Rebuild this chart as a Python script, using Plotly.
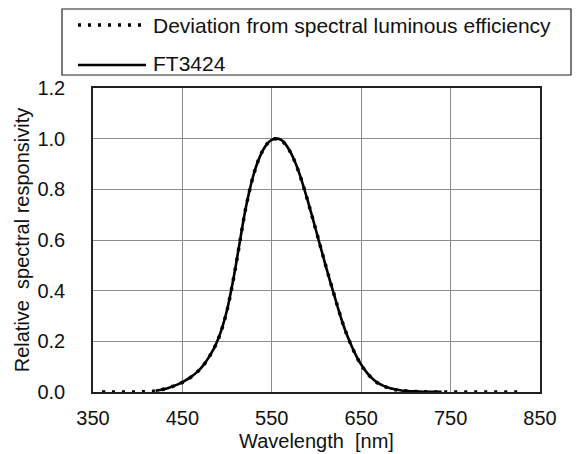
import plotly.graph_objects as go

# Wavelength grid (nm)
wl_ref = list(range(360, 835, 5))
# Spectral luminous efficiency V(lambda) (dotted)
v_ref = [0.0000, 0.0000, 0.0000, 0.0000, 0.0000, 0.0001, 0.0001, 0.0002, 0.0004, 0.0006,
         0.0012, 0.0022, 0.0040, 0.0073, 0.0116, 0.0168, 0.0230, 0.0298, 0.0380, 0.0480,
         0.0600, 0.0739, 0.0910, 0.1126, 0.1390, 0.1693, 0.2080, 0.2586, 0.3230, 0.4073,
         0.5030, 0.6082, 0.7100, 0.7932, 0.8620, 0.9149, 0.9540, 0.9803, 0.9950, 1.0000,
         0.9950, 0.9786, 0.9520, 0.9154, 0.8700, 0.8163, 0.7570, 0.6949, 0.6310, 0.5668,
         0.5030, 0.4412, 0.3810, 0.3210, 0.2650, 0.2170, 0.1750, 0.1382, 0.1070, 0.0816,
         0.0610, 0.0446, 0.0320, 0.0232, 0.0170, 0.0119, 0.0082, 0.0057, 0.0041, 0.0029,
         0.0021, 0.0015, 0.0010, 0.0007, 0.0005, 0.0004, 0.0002, 0.0002, 0.0001, 0.0001,
         0.0001, 0.0000, 0.0000, 0.0000, 0.0000, 0.0000, 0.0000, 0.0000, 0.0000, 0.0000,
         0.0000, 0.0000, 0.0000, 0.0000, 0.0000]

# FT3424 measured relative spectral responsivity (solid)
wl_ft = list(range(420, 745, 5))
v_ft = [0.0045, 0.0078, 0.0120, 0.0172, 0.0235, 0.0302, 0.0385, 0.0485, 0.0605, 0.0745,
        0.0915, 0.1130, 0.1395, 0.1700, 0.2090, 0.2600, 0.3245, 0.4090, 0.5045, 0.6095,
        0.7110, 0.7940, 0.8625, 0.9150, 0.9540, 0.9805, 0.9955, 1.0000, 0.9960, 0.9795,
        0.9530, 0.9165, 0.8710, 0.8170, 0.7575, 0.6950, 0.6305, 0.5660, 0.5020, 0.4400,
        0.3800, 0.3200, 0.2645, 0.2170, 0.1755, 0.1390, 0.1080, 0.0825, 0.0620, 0.0455,
        0.0330, 0.0240, 0.0175, 0.0125, 0.0088, 0.0062, 0.0045, 0.0032, 0.0023, 0.0016,
        0.0011, 0.0008, 0.0006, 0.0004, 0.0003]

x_ticks = [350, 450, 550, 650, 750, 850]
y_ticks = [0.0, 0.2, 0.4, 0.6, 0.8, 1.0, 1.2]
legend_labels = ["Deviation from spectral luminous efficiency", "FT3424"]

FONT = "Liberation Sans, Arial, sans-serif"
FS = 20
FS_LEG = 21

fig = go.Figure()
fig.add_trace(go.Scatter(x=wl_ft, y=v_ft, mode="lines", line_shape="spline",
                         line=dict(color="black", width=2.6),
                         name=legend_labels[1], showlegend=False))
fig.add_trace(go.Scatter(x=wl_ref, y=v_ref, mode="lines", line_shape="spline",
                         line=dict(color="black", width=3.5, dash="3px,7px"),
                         name=legend_labels[0], showlegend=False))

# Manual legend box (paper coords: plot area px 93..540 x, 88..392 y)
L, R, T, B = 93, 540, 88, 392
def px(x):
    return (x - L) / (R - L)
def py(y):
    return (B - y) / (B - T)

fig.add_shape(type="rect", xref="paper", yref="paper",
              x0=px(62), x1=px(571), y0=py(75), y1=py(9),
              line=dict(color="#222", width=1.2), fillcolor="white", layer="above")
fig.add_shape(type="line", xref="paper", yref="paper",
              x0=px(78), x1=px(142), y0=py(25), y1=py(25),
              line=dict(color="black", width=3.5, dash="3px,7px"))
fig.add_shape(type="line", xref="paper", yref="paper",
              x0=px(78), x1=px(146), y0=py(65), y1=py(65),
              line=dict(color="black", width=2.4))
for lbl, yy in zip(legend_labels, [25, 64]):
    fig.add_annotation(xref="paper", yref="paper", x=px(151), y=py(yy),
                       text=lbl, showarrow=False, xanchor="left", yanchor="middle",
                       font=dict(family=FONT, size=FS_LEG, color="#111"))

fig.update_layout(
    width=577, height=454,
    margin=dict(l=L, r=577 - R, t=T, b=454 - B, autoexpand=False),
    paper_bgcolor="white", plot_bgcolor="white",
    font=dict(family=FONT, size=FS, color="#111"),
    showlegend=False,
)
fig.update_xaxes(range=[350, 850], tickvals=x_ticks, ticktext=[str(v) for v in x_ticks],
                 showgrid=True, gridcolor="#8c8c8c", gridwidth=1,
                 showline=True, linecolor="#222", linewidth=1.5, mirror=True,
                 ticks="", zeroline=False, ticklabelstandoff=7, automargin=False,
                 title=dict(text="Wavelength  [nm]", standoff=6,
                            font=dict(family=FONT, size=FS)))
fig.update_yaxes(range=[0, 1.2], tickvals=y_ticks, ticktext=[f"{v:.1f}" for v in y_ticks],
                 showgrid=True, gridcolor="#8c8c8c", gridwidth=1,
                 showline=True, linecolor="#222", linewidth=1.5, mirror=True,
                 ticks="", zeroline=False, ticklabelstandoff=22, automargin=False,
                 title=dict(text="Relative  spectral responsivity", standoff=2,
                            font=dict(family=FONT, size=FS)))

fig.write_html("out.html")
